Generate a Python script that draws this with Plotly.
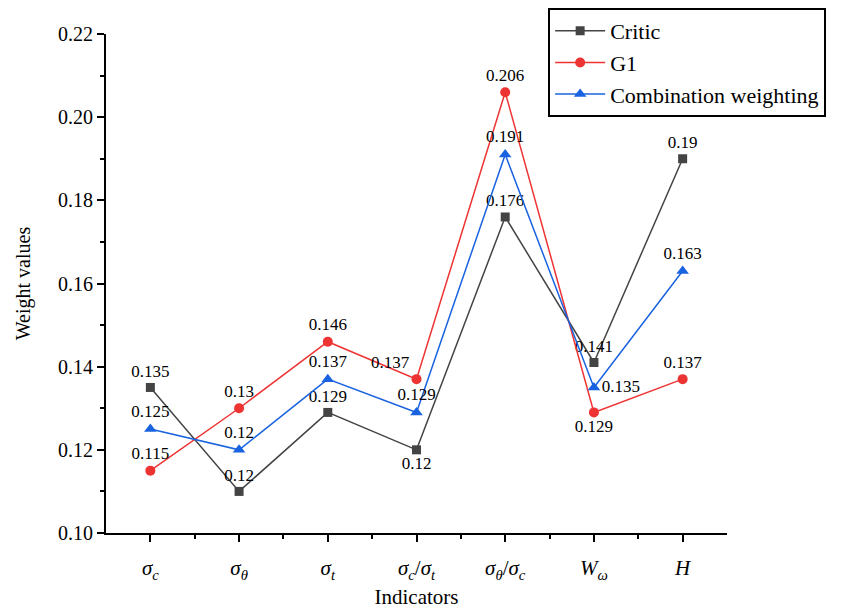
import plotly.graph_objects as go

categories = ["<i>σ</i><sub><i>c</i></sub>", "<i>σ</i><sub><i>θ</i></sub>", "<i>σ</i><sub><i>t</i></sub>",
              "<i>σ</i><sub><i>c</i></sub>/<i>σ</i><sub><i>t</i></sub>",
              "<i>σ</i><sub><i>θ</i></sub>/<i>σ</i><sub><i>c</i></sub>",
              "<i>W</i><sub><i>ω</i></sub>", "<i>H</i>"]

critic = [0.135, 0.110, 0.129, 0.120, 0.176, 0.141, 0.190]
critic_labels = ["0.135", "0.12", "0.129", "0.12", "0.176", "0.141", "0.19"]
g1 = [0.115, 0.130, 0.146, 0.137, 0.206, 0.129, 0.137]
g1_labels = ["0.115", "0.13", "0.146", "0.137", "0.206", "0.129", "0.137"]
comb = [0.125, 0.120, 0.137, 0.129, 0.191, 0.135, 0.163]
comb_labels = ["0.125", "0.12", "0.137", "0.129", "0.191", "0.135", "0.163"]

critic_pos = ["top center", "top center", "top center", "bottom center", "top center", "top center", "top center"]
g1_pos = ["top center", "top center", "top center", "top left", "top center", "bottom center", "top center"]
comb_pos = ["top center", "top center", "top center", "top center", "top center", "middle right", "top center"]

x = list(range(len(categories)))
FONT = "Liberation Serif"

fig = go.Figure()
series = [
    ("Critic", critic, critic_labels, critic_pos, "#444444", "square", 9),
    ("G1", g1, g1_labels, g1_pos, "#ee3333", "circle", 10),
    ("Combination weighting", comb, comb_labels, comb_pos, "#1a63e0", "triangle-up", 11),
]
for name, vals, labs, pos, col, sym, sz in series:
    fig.add_trace(go.Scatter(
        x=x, y=vals, name=name, mode="lines+markers+text",
        text=labs, textposition=pos,
        textfont=dict(family=FONT, size=17, color="black"),
        line=dict(color=col, width=1.5),
        marker=dict(color=col, symbol=sym, size=sz),
        cliponaxis=False,
    ))

fig.update_layout(
    width=845, height=613,
    margin=dict(l=98, r=126, t=26, b=88, autoexpand=False),
    paper_bgcolor="white", plot_bgcolor="white",
    font=dict(family=FONT, size=16, color="black"),
    showlegend=True,
    legend=dict(x=0.712, y=1.052, xanchor="left", yanchor="top",
                bordercolor="black", borderwidth=2, bgcolor="white",
                font=dict(family=FONT, size=22), tracegroupgap=0, itemwidth=50),
    xaxis=dict(
        range=[-0.5, 6.5], tickmode="array", tickvals=x, ticktext=categories,
        showline=True, linecolor="black", linewidth=2, showgrid=False, zeroline=False,
        ticks="outside", ticklen=7, tickwidth=2, tickcolor="black", automargin=False,
        ticklabelstandoff=8,
        minor=dict(tickmode="array", tickvals=[i + 0.5 for i in x[:-1]], ticks="outside", ticklen=4, tickwidth=1.5, tickcolor="black"),
        tickfont=dict(family=FONT, size=21),
        title=dict(text="Indicators", font=dict(family=FONT, size=21), standoff=8),
    ),
    yaxis=dict(
        range=[0.10, 0.22], tickmode="linear", tick0=0.10, dtick=0.02, tickformat=".2f",
        showline=True, linecolor="black", linewidth=2, showgrid=False, zeroline=False,
        ticks="outside", ticklen=7, tickwidth=2, tickcolor="black", automargin=False,
        minor=dict(dtick=0.01, ticks="outside", ticklen=4, tickwidth=1.5, tickcolor="black"),
        tickfont=dict(family=FONT, size=20),
        title=dict(text="Weight values", font=dict(family=FONT, size=20), standoff=22),
    ),
)

fig.write_html("out.html")
